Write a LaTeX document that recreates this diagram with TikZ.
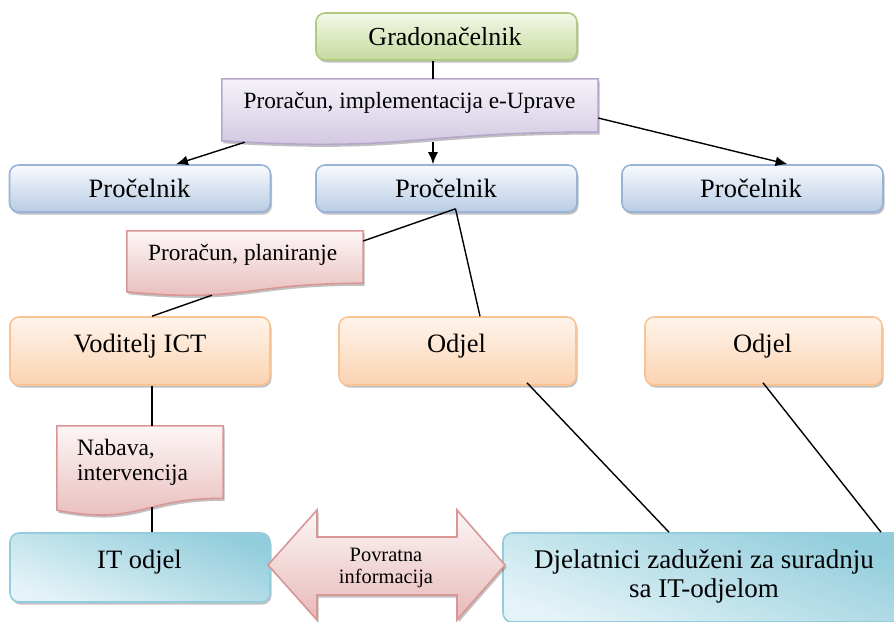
\documentclass[tikz,border=0pt]{standalone}
\usepackage{fontspec}
\setmainfont{Liberation Serif}
\usetikzlibrary{calc,shadows,arrows.meta}
\definecolor{grnB}{HTML}{B0CB80}
\definecolor{grnT}{HTML}{F3F8E8}
\definecolor{grnD}{HTML}{C6DA9E}
\definecolor{purB}{HTML}{B6A6CB}
\definecolor{purT}{HTML}{F6F3FA}
\definecolor{purD}{HTML}{CEC4DF}
\definecolor{bluB}{HTML}{97B4D8}
\definecolor{bluT}{HTML}{F8FAFD}
\definecolor{bluD}{HTML}{B8CCE4}
\definecolor{orgB}{HTML}{F9C393}
\definecolor{orgT}{HTML}{FFF4EB}
\definecolor{orgD}{HTML}{FBD3B2}
\definecolor{pnkB}{HTML}{D99694}
\definecolor{pnkT}{HTML}{FDF6F6}
\definecolor{pnkD}{HTML}{E6B9B8}
\definecolor{cyB}{HTML}{93CDDD}
\definecolor{cyT}{HTML}{92CDDC}
\definecolor{cyD}{HTML}{E4F3F7}
\tikzset{
  x=1pt, y=-1pt,
  myshadow/.style={drop shadow={shadow xshift=1.5pt,shadow yshift=-2.5pt,opacity=0.3,fill=black!80}},
  box/.style={rounded corners=9pt, line width=1.6pt, inner sep=0pt, myshadow},
  greenbox/.style={box, draw=grnB, top color=grnT, bottom color=grnD},
  bluebox/.style={box, draw=bluB, top color=bluT, bottom color=bluD, minimum width=261pt, minimum height=47pt},
  orangebox/.style={box, draw=orgB, top color=orgT, bottom color=orgD, minimum height=68pt},
  cyanbox/.style={box, draw=cyB, top color=cyT, bottom color=cyD, shading angle=-20},
  docnode/.style={inner sep=0pt},
  conn/.style={line width=1.4pt, black},
  arr/.style={conn, -{Latex[length=12pt,width=10pt]}},
  txt/.style={inner sep=0pt, anchor=base}
}
\newcommand\docshape[4]{%
  \path[draw=#2, line width=1.6pt, top color=#3, bottom color=#4, myshadow]
    (#1.north west) -- (#1.north east) -- ($(#1.north east)!0.802!(#1.south east)$)
    .. controls ($(#1.north)!0.802!(#1.south)$) and ($(#1.north)!1.107!(#1.south)$) ..
    ($(#1.north west)!0.934!(#1.south west)$) -- cycle;}
\begin{document}
\begin{tikzpicture}
\useasboundingbox (0,0) rectangle (894,621);
\clip (0,0) rectangle (894,621);
% boxes
\node[greenbox, minimum width=261pt, minimum height=47pt] (grad) at (446.5,36.5) {};
\node[docnode, minimum width=376pt, minimum height=66pt] (pur) at (410,112) {};
\docshape{pur}{purB}{purT}{purD}
\node[bluebox] (pl) at (140,188.5) {};
\node[bluebox] (pm) at (446.5,188.5) {};
\node[bluebox] (pr) at (752.5,188.5) {};
\node[docnode, minimum width=236pt, minimum height=65pt] (pp) at (245,263.5) {};
\docshape{pp}{pnkB}{pnkT}{pnkD}
\node[orangebox, minimum width=260pt] (vt) at (140,351) {};
\node[orangebox, minimum width=237pt] (om) at (457.5,351) {};
\node[orangebox, minimum width=237pt] (or) at (763.5,351) {};
\node[docnode, minimum width=166pt, minimum height=90pt] (nab) at (140,471) {};
\docshape{nab}{pnkB}{pnkT}{pnkD}
\node[cyanbox, minimum width=260pt, minimum height=69pt] (it) at (140,567.5) {};
\node[cyanbox, minimum width=401pt, minimum height=89pt] (dj) at (703.5,577.5) {};
% double arrow
\path[draw=pnkB, line width=1.6pt, top color=pnkT, bottom color=pnkD, myshadow]
  (268,565) -- (317,510) -- (317,537) -- (457,537) -- (457,510) -- (505,565)
  -- (457,620) -- (457,595) -- (317,595) -- (317,620) -- cycle;
% connectors
\draw[conn] ([xshift=-13.5pt]grad.south) -- ([xshift=23pt]pur.north);
\draw[arr] ([xshift=23pt,yshift=3pt]pur.south) -- ([xshift=-13.5pt]pm.north);
\draw[arr] ([xshift=23pt,yshift=3pt]pur.south west) -- ([xshift=36pt]pl.north);
\draw[arr] ([yshift=-6pt]pur.east) -- ([xshift=35pt]pr.north);
\draw[conn] ([shift={(9pt,4pt)}]pm.south) -- ([yshift=22.5pt]pp.east);
\draw[conn] ([shift={(9pt,4pt)}]pm.south) -- ([xshift=22.5pt]om.north);
\draw[conn] ([shift={(-33pt,1pt)}]pp.south) -- ([xshift=12pt]vt.north);
\draw[conn] ([xshift=12pt]vt.south) -- ([xshift=12pt]nab.north);
\draw[conn] ([shift={(12pt,9pt)}]nab.south) -- ([xshift=12pt]it.north);
\draw[conn] ([shift={(69.5pt,3pt)}]om.south) -- ([xshift=-34.5pt]dj.north);
\draw[conn] ([shift={(-0.5pt,3pt)}]or.south) -- ([xshift=177.5pt]dj.north);
% texts
\node[txt, font=\fontsize{26}{30}\selectfont] (grad-t) at (445,45) {Gradonačelnik};
\node[txt, font=\fontsize{23.3}{27}\selectfont] (pur-t) at (409.5,108) {Proračun, implementacija e-Uprave};
\node[txt, font=\fontsize{26.5}{30}\selectfont] (pl-t) at (139.5,197) {Pročelnik};
\node[txt, font=\fontsize{26.5}{30}\selectfont] (pm-t) at (446,197) {Pročelnik};
\node[txt, font=\fontsize{26.5}{30}\selectfont] (pr-t) at (751,197) {Pročelnik};
\node[txt, font=\fontsize{23.3}{27}\selectfont] (pp-t) at (242.7,260) {Proračun, planiranje};
\node[txt, font=\fontsize{26.5}{30}\selectfont] (vt-t) at (140,352) {Voditelj ICT};
\node[txt, font=\fontsize{26.5}{30}\selectfont] (om-t) at (456.5,352) {Odjel};
\node[txt, font=\fontsize{26.5}{30}\selectfont] (or-t) at (762.5,352) {Odjel};
\node[inner sep=0pt, anchor=west, align=left, font=\fontsize{23.5}{25}\selectfont] (nab-t) at (77,462) {Nabava,\\intervencija};
\node[txt, font=\fontsize{26.5}{30}\selectfont] (it-t) at (139.5,568) {IT odjel};
\node[inner sep=0pt, align=center, font=\fontsize{20.4}{21.6}\selectfont] (pov-t) at (386,568) {Povratna\\informacija};
\node[inner sep=0pt, align=center, font=\fontsize{27}{29}\selectfont] (dj-t) at (704,576) {Djelatnici zaduženi za suradnju\\sa IT-odjelom};
\end{tikzpicture}
\end{document}
